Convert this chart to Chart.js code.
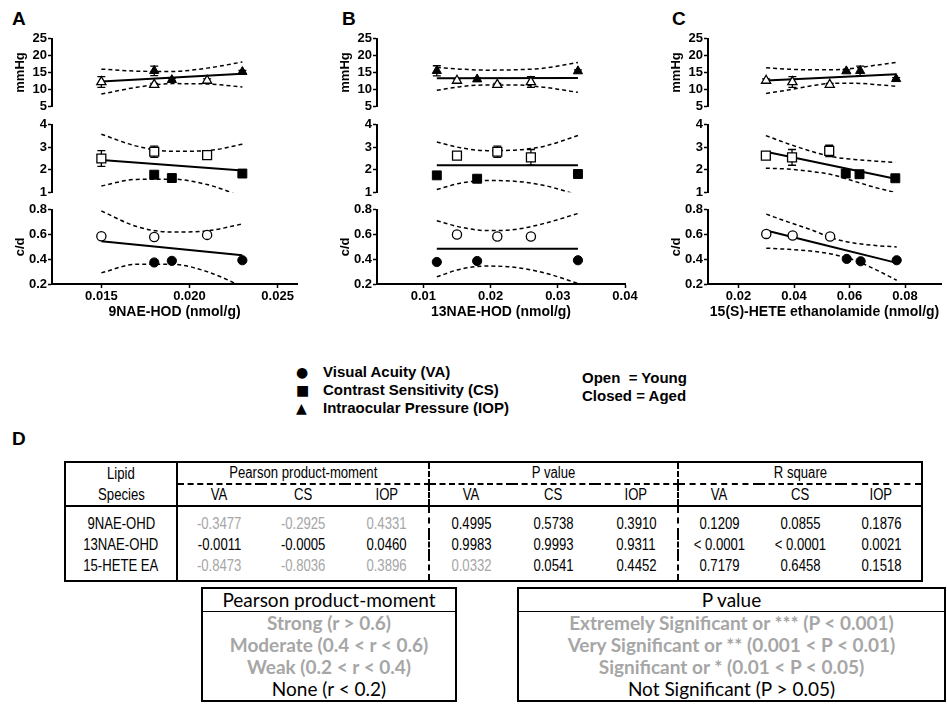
<!DOCTYPE html>
<html>
<head>
<meta charset="utf-8">
<script src="https://cdn.jsdelivr.net/npm/chart.js@4.4.0/dist/chart.umd.min.js"></script>
<style>
  body { margin:0; width:947px; height:720px; position:relative; overflow:hidden; background:#fff;
         font-family:"Liberation Sans", Arial, sans-serif; color:#000; }
  canvas { position:absolute; }
  .letter { position:absolute; font-weight:bold; font-size:19px; }
  .legend { position:absolute; font-weight:bold; font-size:15px; line-height:18px; }
  .legend .mk { display:inline-block; width:27px; font-family:"DejaVu Sans"; font-size:14px; }
  table.stats { position:absolute; left:64px; top:461px; border-collapse:collapse; table-layout:fixed;
                font-family:"Liberation Sans", Arial, sans-serif; font-size:16px;
                border:2px solid #000; }
  table.stats td { text-align:center; padding:0; height:20px; line-height:20px; white-space:nowrap; }
  table.stats td span { display:inline-block; transform:scaleX(0.82); }
  .g { color:#a6a6a6; }
  .sol { border-right:2px solid #000; }
  .dsh { border-right:2px dashed #000; }
  .box { position:absolute; border:2px solid #000; font-family:Lato, "Open Sans", sans-serif; font-size:19px;
         text-align:center; line-height:22px; }
  .box .hd { border-bottom:1.5px solid #000; }
  .box .gb { color:#a6a6a6; font-weight:bold; }
</style>
</head>
<body>
<div class="letter" style="left:12px;top:8px">A</div>
<div class="letter" style="left:342px;top:8px">B</div>
<div class="letter" style="left:672px;top:8px">C</div>

<canvas id="a1"></canvas><canvas id="a2"></canvas><canvas id="a3"></canvas>
<canvas id="b1"></canvas><canvas id="b2"></canvas><canvas id="b3"></canvas>
<canvas id="c1"></canvas><canvas id="c2"></canvas><canvas id="c3"></canvas>

<div class="legend" style="left:296px;top:363px">
  <div><span class="mk">●</span>Visual Acuity (VA)</div>
  <div><span class="mk">■</span>Contrast Sensitivity (CS)</div>
  <div><span class="mk">▲</span>Intraocular Pressure (IOP)</div>
</div>
<div class="legend" style="left:582px;top:369px">
  <div>Open&nbsp; = Young</div>
  <div>Closed = Aged</div>
</div>

<div class="letter" style="left:12px;top:428px">D</div>
<table class="stats">
  <colgroup>
    <col style="width:112px"><col style="width:84px"><col style="width:84px"><col style="width:84px">
    <col style="width:83px"><col style="width:83px"><col style="width:83px">
    <col style="width:81px"><col style="width:82px"><col style="width:81px">
  </colgroup>
  <tr>
    <td class="sol"><span>Lipid</span></td>
    <td colspan="3" class="dsh" style="border-bottom:2px dashed #000"><span>Pearson product-moment</span></td>
    <td colspan="3" class="dsh" style="border-bottom:2px dashed #000"><span>P value</span></td>
    <td colspan="3" style="border-bottom:2px dashed #000"><span>R square</span></td>
  </tr>
  <tr style="border-bottom:2px solid #000">
    <td class="sol"><span>Species</span></td>
    <td><span>VA</span></td><td><span>CS</span></td><td class="dsh"><span>IOP</span></td>
    <td><span>VA</span></td><td><span>CS</span></td><td class="dsh"><span>IOP</span></td>
    <td><span>VA</span></td><td><span>CS</span></td><td><span>IOP</span></td>
  </tr>
  <tbody id="rows"></tbody>
</table>

<div class="box" style="left:201px;top:587px;width:252px">
  <div class="hd">Pearson product-moment</div>
  <div class="gb">Strong (r &gt; 0.6)</div>
  <div class="gb">Moderate (0.4 &lt; r &lt; 0.6)</div>
  <div class="gb">Weak (0.2 &lt; r &lt; 0.4)</div>
  <div>None (r &lt; 0.2)</div>
</div>
<div class="box" style="left:517px;top:587px;width:425px">
  <div class="hd">P value</div>
  <div class="gb">Extremely Significant or *** (P &lt; 0.001)</div>
  <div class="gb">Very Significant or ** (0.001 &lt; P &lt; 0.01)</div>
  <div class="gb">Significant or * (0.01 &lt; P &lt; 0.05)</div>
  <div>Not Significant (P &gt; 0.05)</div>
</div>

<script>
// ---- data ----
// Panel A: 9NAE-HOD
const xYoungA = [0.015, 0.018, 0.021];
const xAgedA = [0.018, 0.019, 0.023];
const iopYoungA = [12.2, 11.4, 12.6], iopYoungErrA = [1.6, 0.4, 0.5];
const iopAgedA = [15.5, 12.8, 15.2], iopAgedErrA = [1.4, 0.4, 0.4];
const csYoungA = [2.5, 2.8, 2.65], csYoungErrA = [0.35, 0.25, 0.15];
const csAgedA = [1.78, 1.63, 1.83];
const vaYoungA = [0.586, 0.58, 0.597];
const vaAgedA = [0.374, 0.387, 0.392];
const fitXA = [0.015, 0.023];
const iopFitA = [12.3, 14.6], csFitA = [2.43, 1.97], vaFitA = [0.546, 0.432];
const ciXA = [0.015, 0.017, 0.019, 0.021, 0.023];
const iopUpA = [16.0, 15.4, 15.3, 16.3, 18.1], iopLoA = [8.6, 10.6, 11.7, 11.6, 10.7];
const csUpA = [3.58, 3.05, 2.82, 2.85, 3.13], csLoA = [1.28, 1.57, 1.58, 1.34, 0.81];
const vaUpA = [0.79, 0.665, 0.62, 0.63, 0.685], vaLoA = [0.29, 0.36, 0.36, 0.30, 0.18];

// Panel B: 13NAE-HOD
const xYoungB = [0.015, 0.021, 0.026];
const xAgedB = [0.012, 0.018, 0.033];
const iopYoungB = [12.6, 11.4, 12.2], iopYoungErrB = [0.5, 0.4, 1.6];
const iopAgedB = [15.5, 13.0, 15.4], iopAgedErrB = [1.5, 0.4, 0.4];
const csYoungB = [2.63, 2.8, 2.55], csYoungErrB = [0.15, 0.25, 0.35];
const csAgedB = [1.75, 1.6, 1.81];
const vaYoungB = [0.6, 0.584, 0.584];
const vaAgedB = [0.378, 0.386, 0.392];
const fitXB = [0.012, 0.033];
const iopFitB = [13.3, 13.4], csFitB = [2.2, 2.2], vaFitB = [0.486, 0.486];
const ciXB = [0.012, 0.0155, 0.0195, 0.0235, 0.028, 0.033];
const iopUpB = [16.5, 16.0, 15.7, 15.8, 16.3, 18.0], iopLoB = [9.7, 10.8, 11.3, 11.3, 10.6, 9.1];
const csUpB = [3.23, 2.98, 2.85, 2.87, 3.05, 3.52], csLoB = [1.12, 1.4, 1.52, 1.49, 1.3, 0.88];
const vaUpB = [0.712, 0.66, 0.632, 0.64, 0.69, 0.77], vaLoB = [0.258, 0.32, 0.345, 0.335, 0.29, 0.205];

// Panel C: 15(S)-HETE ethanolamide
const xYoungC = [0.030, 0.0395, 0.053];
const xAgedC = [0.059, 0.064, 0.077];
const iopYoungC = [12.6, 12.2, 11.4], iopYoungErrC = [0.5, 1.6, 0.4];
const iopAgedC = [15.4, 15.5, 13.1], iopAgedErrC = [0.4, 1.4, 0.4];
const csYoungC = [2.63, 2.55, 2.84], csYoungErrC = [0.15, 0.35, 0.25];
const csAgedC = [1.83, 1.8, 1.62];
const vaYoungC = [0.605, 0.592, 0.584];
const vaAgedC = [0.403, 0.384, 0.392];
const fitXC = [0.030, 0.077];
const iopFitC = [12.6, 14.5], csFitC = [2.8, 1.6], vaFitC = [0.632, 0.371];
const ciXC = [0.030, 0.038, 0.046, 0.054, 0.062, 0.070, 0.077];
const iopUpC = [16.4, 16.0, 15.8, 15.8, 16.3, 17.2, 18.0], iopLoC = [8.8, 9.8, 11.0, 11.8, 11.8, 11.4, 10.9];
const csUpC = [3.52, 3.16, 2.84, 2.58, 2.46, 2.38, 2.33], csLoC = [2.07, 2.03, 1.93, 1.78, 1.49, 1.2, 0.99];
const vaUpC = [0.765, 0.70, 0.64, 0.57, 0.53, 0.51, 0.5], vaLoC = [0.49, 0.48, 0.467, 0.44, 0.39, 0.31, 0.23];

// table D
const lipidSpecies = ['9NAE-OHD', '13NAE-OHD', '15-HETE EA'];
const pearsonVals = [['-0.3477', '-0.2925', '0.4331'], ['-0.0011', '-0.0005', '0.0460'], ['-0.8473', '-0.8036', '0.3896']];
const pVals = [['0.4995', '0.5738', '0.3910'], ['0.9983', '0.9993', '0.9311'], ['0.0332', '0.0541', '0.4452']];
const rSquareVals = [['0.1209', '0.0855', '0.1876'], ['< 0.0001', '< 0.0001', '0.0021'], ['0.7179', '0.6458', '0.1518']];

const FONT = '"Liberation Sans", Arial, sans-serif';
const YW = 46;

function pts(xs, ys) { return xs.map((x, i) => ({x: x, y: ys[i]})); }

// error bars drawn under the markers
const errorBars = {
  id: 'errorBars',
  beforeDatasetsDraw(chart) {
    const ctx = chart.ctx, xs = chart.scales.x, ys = chart.scales.y;
    chart.data.datasets.forEach(ds => {
      if (!ds.err) return;
      ctx.save();
      ctx.strokeStyle = '#000';
      ctx.lineWidth = 1.3;
      ds.data.forEach((p, i) => {
        const x = xs.getPixelForValue(p.x);
        const y1 = ys.getPixelForValue(p.y + ds.err[i]);
        const y2 = ys.getPixelForValue(p.y - ds.err[i]);
        ctx.beginPath();
        ctx.moveTo(x, y1); ctx.lineTo(x, y2);
        ctx.moveTo(x - 4, y1); ctx.lineTo(x + 4, y1);
        ctx.moveTo(x - 4, y2); ctx.lineTo(x + 4, y2);
        ctx.stroke();
      });
      ctx.restore();
    });
  }
};

function tickFont(size) { return {family: FONT, size: size, weight: 'bold'}; }

function subChart(id, left, top, w, h, o) {
  const cv = document.getElementById(id);
  cv.width = w; cv.height = h;
  cv.style.left = left + 'px'; cv.style.top = top + 'px';
  const r = o.style === 'rect' ? 6.3 : (o.style === 'triangle' ? 5.3 : 4.6);
  const line = (data, dash) => ({
    data: data, showLine: true, pointRadius: 0, borderColor: '#000',
    borderWidth: dash ? 1.5 : 2, borderDash: dash ? [4, 3] : [],
    cubicInterpolationMode: 'monotone'
  });
  new Chart(cv, {
    type: 'scatter',
    data: {
      datasets: [
        { data: pts(o.xYoung, o.young), err: o.youngErr, pointStyle: o.style, pointRadius: r,
          backgroundColor: '#fff', borderColor: '#000', borderWidth: 1.3 },
        { data: pts(o.xAged, o.aged), err: o.agedErr, pointStyle: o.style, pointRadius: r,
          backgroundColor: '#000', borderColor: '#000', borderWidth: 1 },
        line(pts(o.fitX, o.fit), false),
        line(pts(o.ciX, o.up), true),
        line(pts(o.ciX, o.lo), true)
      ]
    },
    options: {
      responsive: false, animation: false,
      layout: { padding: { top: 8, right: o.padR, bottom: o.xTitle ? 0 : 8, left: 0 } },
      plugins: { legend: { display: false }, tooltip: { enabled: false } },
      scales: {
        x: {
          type: 'linear', min: o.xMin, max: o.xMax, display: !!o.xTitle,
          afterFit(s) { if (o.xTitle) s.height = 40; },
          border: { color: '#000', width: 2 },
          grid: { drawOnChartArea: false, tickLength: 4, tickColor: '#000', tickWidth: 1.5 },
          ticks: { stepSize: o.xStep, includeBounds: false, padding: 1, color: '#000', font: tickFont(13),
                   maxRotation: 0, autoSkip: false, callback: v => v.toFixed(o.xDec) },
          title: { display: !!o.xTitle, text: o.xTitle, color: '#000', font: tickFont(14),
                   padding: { top: 0, bottom: 3 } }
        },
        y: {
          min: o.yMin, max: o.yMax,
          afterFit(s) { s.width = YW; },
          border: { color: '#000', width: 2 },
          grid: { drawOnChartArea: false, tickLength: 4, tickColor: '#000', tickWidth: 1.5 },
          ticks: { stepSize: o.yStep, padding: 1, color: '#000', font: tickFont(13), autoSkip: false,
                   callback: v => v.toFixed(o.yDec) },
          title: { display: !!o.yTitle, text: o.yTitle, color: '#000', font: tickFont(13),
                   padding: { top: 7, bottom: 0 } }
        }
      }
    },
    plugins: [errorBars]
  });
}

function panel(p, axisX, plotW, padR, xMin, xMax, xStep, xDec, xTitle, d) {
  const left = axisX - YW, w = YW + plotW + padR;
  const base = { xYoung: d.xYoung, xAged: d.xAged, fitX: d.fitX, ciX: d.ciX,
                 xMin: xMin, xMax: xMax, xStep: xStep, xDec: xDec, padR: padR };
  subChart(p + '1', left, 30, w, 85, Object.assign({}, base, {
    style: 'triangle', young: d.iopYoung, youngErr: d.iopYoungErr, aged: d.iopAged, agedErr: d.iopAgedErr,
    fit: d.iopFit, up: d.iopUp, lo: d.iopLo, yMin: 5, yMax: 25, yStep: 5, yDec: 0, yTitle: 'mmHg' }));
  subChart(p + '2', left, 116, w, 85, Object.assign({}, base, {
    style: 'rect', young: d.csYoung, youngErr: d.csYoungErr, aged: d.csAged, agedErr: null,
    fit: d.csFit, up: d.csUp, lo: d.csLo, yMin: 1, yMax: 4, yStep: 1, yDec: 0 }));
  subChart(p + '3', left, 201, w, 123, Object.assign({}, base, {
    style: 'circle', young: d.vaYoung, youngErr: null, aged: d.vaAged, agedErr: null,
    fit: d.vaFit, up: d.vaUp, lo: d.vaLo, yMin: 0.2, yMax: 0.8, yStep: 0.2, yDec: 1, yTitle: 'c/d',
    xTitle: xTitle }));
}

panel('a', 52, 245, 14, 0.0122, 0.0261, 0.005, 3, '9NAE-HOD (nmol/g)', {
  xYoung: xYoungA, xAged: xAgedA, fitX: fitXA, ciX: ciXA,
  iopYoung: iopYoungA, iopYoungErr: iopYoungErrA, iopAged: iopAgedA, iopAgedErr: iopAgedErrA,
  iopFit: iopFitA, iopUp: iopUpA, iopLo: iopLoA,
  csYoung: csYoungA, csYoungErr: csYoungErrA, csAged: csAgedA, csFit: csFitA, csUp: csUpA, csLo: csLoA,
  vaYoung: vaYoungA, vaAged: vaAgedA, vaFit: vaFitA, vaUp: vaUpA, vaLo: vaLoA });

panel('b', 377, 248, 14, 0.0031, 0.04, 0.01, 2, '13NAE-HOD (nmol/g)', {
  xYoung: xYoungB, xAged: xAgedB, fitX: fitXB, ciX: ciXB,
  iopYoung: iopYoungB, iopYoungErr: iopYoungErrB, iopAged: iopAgedB, iopAgedErr: iopAgedErrB,
  iopFit: iopFitB, iopUp: iopUpB, iopLo: iopLoB,
  csYoung: csYoungB, csYoungErr: csYoungErrB, csAged: csAgedB, csFit: csFitB, csUp: csUpB, csLo: csLoB,
  vaYoung: vaYoungB, vaAged: vaAgedB, vaFit: vaFitB, vaUp: vaUpB, vaLo: vaLoB });

panel('c', 708, 239, 0, 0.009, 0.093, 0.02, 2, '15(S)-HETE ethanolamide (nmol/g)', {
  xYoung: xYoungC, xAged: xAgedC, fitX: fitXC, ciX: ciXC,
  iopYoung: iopYoungC, iopYoungErr: iopYoungErrC, iopAged: iopAgedC, iopAgedErr: iopAgedErrC,
  iopFit: iopFitC, iopUp: iopUpC, iopLo: iopLoC,
  csYoung: csYoungC, csYoungErr: csYoungErrC, csAged: csAgedC, csFit: csFitC, csUp: csUpC, csLo: csLoC,
  vaYoung: vaYoungC, vaAged: vaAgedC, vaFit: vaFitC, vaUp: vaUpC, vaLo: vaLoC });

// table rows; grey = values highlighted in the original
const greyCells = { '0-0': 1, '0-1': 1, '0-2': 1, '2-0': 1, '2-1': 1, '2-2': 1, '2-3': 1 };
const tbody = document.getElementById('rows');
lipidSpecies.forEach((name, i) => {
  const tr = document.createElement('tr');
  const vals = pearsonVals[i].concat(pVals[i], rSquareVals[i]);
  let html = '<td class="sol"><span>' + name + '</span></td>';
  vals.forEach((v, j) => {
    const cls = [];
    if (greyCells[i + '-' + j]) cls.push('g');
    if (j === 2 || j === 5) cls.push('dsh');
    html += '<td class="' + cls.join(' ') + '"><span>' + v + '</span></td>';
  });
  tr.innerHTML = html;
  Array.from(tr.children).forEach(td => {
    td.style.paddingTop = i === 0 ? '7px' : '1px';
    td.style.paddingBottom = i === 2 ? '4px' : '0px';
  });
  tbody.appendChild(tr);
});
</script>
</body>
</html>
